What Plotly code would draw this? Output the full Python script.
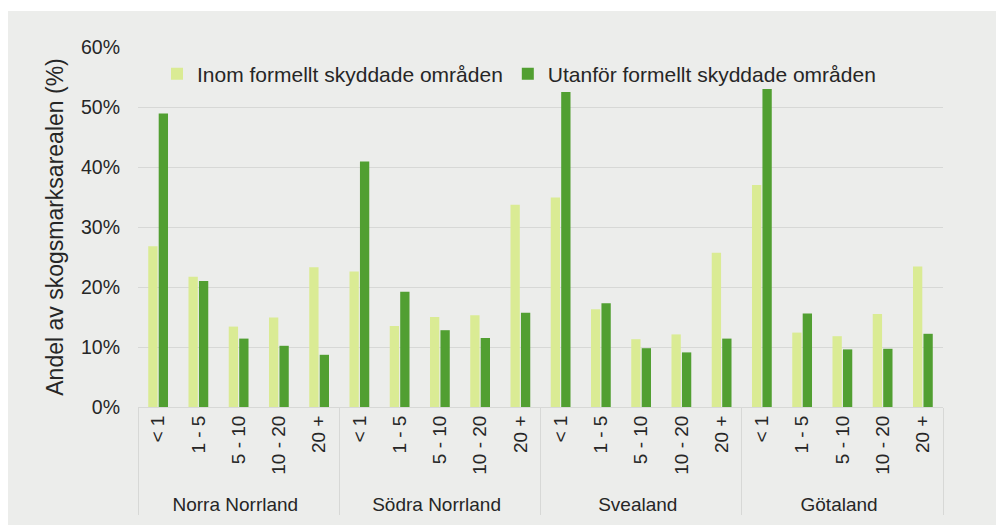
import plotly.graph_objects as go

regions = ["Norra Norrland", "Södra Norrland", "Svealand", "Götaland"]
classes = ["< 1", "1 - 5", "5 - 10", "10 - 20", "20 +"]
series_names = ["Inom formellt skyddade områden", "Utanför formellt skyddade områden"]

inom = [26.8, 21.7, 13.4, 14.9, 23.3,
        22.6, 13.5, 15.0, 15.3, 33.7,
        34.9, 16.3, 11.3, 12.1, 25.7,
        37.0, 12.4, 11.8, 15.5, 23.4]
utanfor = [48.9, 21.0, 11.4, 10.2, 8.7,
           40.9, 19.2, 12.8, 11.5, 15.7,
           52.5, 17.3, 9.8, 9.1, 11.4,
           53.0, 15.6, 9.6, 9.7, 12.2]

y_ticks = [0, 10, 20, 30, 40, 50, 60]
y_ticktext = ["0%", "10%", "20%", "30%", "40%", "50%", "60%"]
y_title = "Andel av skogsmarksarealen (%)"

light = "#DAEB94"
dark = "#519F31"
bg = "#ECEDEB"
grid = "#D7D8D6"
txt = "#262626"
font = "Liberation Sans"

outer = [r for r in regions for _ in classes]
inner = [c for _ in regions for c in classes]

fig = go.Figure()
fig.add_trace(go.Bar(x=[outer, inner], y=inom, name=series_names[0],
                     marker=dict(color=light, line=dict(width=0))))
fig.add_trace(go.Bar(x=[outer, inner], y=utanfor, name=series_names[1],
                     marker=dict(color=dark, line=dict(width=0))))

# page offset of the figure (body margin) is 8px
OFF = 8
W, H = 996, 517
L, T = 138 - OFF, 47 - OFF
R = W - (943 - OFF)
B = H - (407 - OFF)
pw, ph = W - L - R, H - T - B


def px_x(x):
    return (x - OFF - L) / pw


def px_y(y):
    return (H - B - (y - OFF)) / ph


fig.add_shape(type="rect", xref="paper", yref="paper",
              x0=px_x(8), x1=px_x(1000), y0=px_y(530), y1=px_y(11),
              fillcolor=bg, line=dict(width=0), layer="below")

fig.update_layout(
    width=W, height=H,
    margin=dict(l=L, r=R, t=T, b=B, autoexpand=False),
    paper_bgcolor="white",
    plot_bgcolor=bg,
    barmode="group",
    bargap=0.48,
    bargroupgap=0.11,
    font=dict(family=font, size=18, color=txt),
    legend=dict(orientation="h", x=px_x(157), y=px_y(74), xanchor="left", yanchor="middle",
                font=dict(size=21, color=txt), bgcolor="rgba(0,0,0,0)",
                itemwidth=30, traceorder="normal"),
    showlegend=True,
)

fig.update_yaxes(
    range=[0, 60], tickvals=y_ticks, ticktext=y_ticktext,
    showgrid=True, gridcolor=grid, gridwidth=1,
    zeroline=False, showline=False,
    tickfont=dict(size=19.5, color=txt),
    ticklabelstandoff=17,
    title=dict(text=y_title, font=dict(size=23, color=txt), standoff=10),
)

fig.update_xaxes(
    type="multicategory",
    tickangle=-90,
    showline=True, linecolor=grid, linewidth=1,
    showdividers=True, dividercolor=grid, dividerwidth=1,
    tickfont=dict(size=19, color=txt),
    ticks="",
)

fig.write_html("out.html")
